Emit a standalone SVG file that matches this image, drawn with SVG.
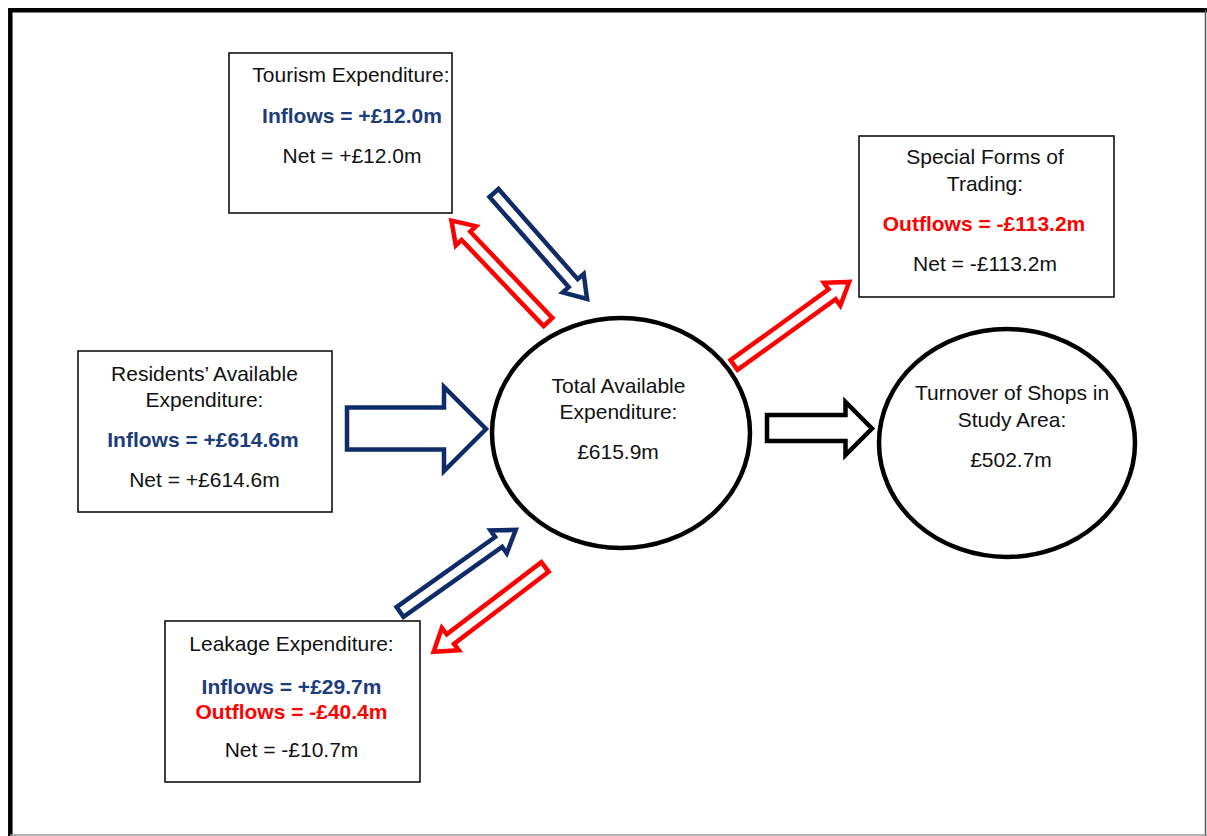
<svg xmlns="http://www.w3.org/2000/svg" width="1207" height="836" viewBox="0 0 1207 836">
<style>
  text { font-family: "Liberation Sans", Arial, sans-serif; font-size: 21px; fill: #111; text-anchor: middle; }
  .blue { fill: #1d3c7a; font-weight: bold; }
  .red { fill: #ff0000; font-weight: bold; }
  .box { fill: #fff; stroke: #111; stroke-width: 1.6; }
  .circ { fill: #fff; stroke: #000; stroke-width: 4.5; }
  .anavy { fill: #fff; stroke: #0f2c68; stroke-width: 4.5; stroke-linejoin: miter; }
  .ared { fill: #fff; stroke: #ff0000; stroke-width: 4.5; stroke-linejoin: miter; }
  .ablack { fill: #fff; stroke: #000; stroke-width: 4.5; stroke-linejoin: miter; }
</style>
<rect width="1207" height="836" fill="#fff"/>
<g id="frame">
  <path d="M10.3,836 L10.3,10.3 L1207,10.3" fill="none" stroke="#000" stroke-width="4.5"/>
  <line x1="1205.5" y1="10" x2="1205.5" y2="836" stroke="#555" stroke-width="1.5"/>
  <line x1="10" y1="835" x2="1207" y2="835" stroke="#999" stroke-width="1.5"/>
</g>
<g id="connectors">
  <polygon class="anavy" transform="translate(494,193) rotate(48.7)" points="0,-6 120,-6 120,-14 141,0 120,14 120,6 0,6"/>
  <polygon class="ared" transform="translate(548,322) rotate(-133.6)" points="0,-6 119,-6 119,-14 140,0 119,14 119,6 0,6"/>
  <polygon class="ared" transform="translate(734,365) rotate(-35.8)" points="0,-6 121,-6 121,-14 142,0 121,14 121,6 0,6"/>
  <polygon class="anavy" transform="translate(400,612) rotate(-35.4)" points="0,-6 121,-6 121,-14 142,0 121,14 121,6 0,6"/>
  <polygon class="ared" transform="translate(545,567) rotate(142.7)" points="0,-6 119,-6 119,-14 140,0 119,14 119,6 0,6"/>
  <polygon class="anavy" points="347,407.5 444,407.5 444,387 486,429 444,471 444,449.5 347,449.5"/>
  <polygon class="ablack" points="767,415 845.5,415 845.5,402 872,428.5 845.5,455 845.5,441 767,441"/>
</g>
<g id="tourism">
  <rect class="box" x="229" y="53" width="223" height="160"/>
  <text x="351" y="82">Tourism Expenditure:</text>
  <text class="blue" x="352" y="123">Inflows = +£12.0m</text>
  <text x="352" y="163">Net = +£12.0m</text>
</g>
<g id="special">
  <rect class="box" x="859" y="136" width="255" height="161"/>
  <text x="985" y="164">Special Forms of</text>
  <text x="985" y="191">Trading:</text>
  <text class="red" x="984" y="231">Outflows = -£113.2m</text>
  <text x="985" y="271">Net = -£113.2m</text>
</g>
<g id="residents">
  <rect class="box" x="78" y="351" width="254" height="161"/>
  <text x="204.5" y="381">Residents’ Available</text>
  <text x="204.5" y="407">Expenditure:</text>
  <text class="blue" x="203" y="447">Inflows = +£614.6m</text>
  <text x="204.5" y="487">Net = +£614.6m</text>
</g>
<g id="leakage">
  <rect class="box" x="165" y="621" width="255" height="161"/>
  <text x="291.5" y="651">Leakage Expenditure:</text>
  <text class="blue" x="291.5" y="694">Inflows = +£29.7m</text>
  <text class="red" x="291.5" y="719">Outflows = -£40.4m</text>
  <text x="291.5" y="757">Net = -£10.7m</text>
</g>
<g id="total">
  <ellipse class="circ" cx="621" cy="433" rx="129" ry="115"/>
  <text x="618.5" y="393">Total Available</text>
  <text x="618.5" y="419">Expenditure:</text>
  <text x="618" y="459">£615.9m</text>
</g>
<g id="turnover">
  <ellipse class="circ" cx="1007" cy="443" rx="128" ry="114"/>
  <text x="1012" y="400">Turnover of Shops in</text>
  <text x="1012" y="427">Study Area:</text>
  <text x="1011" y="467">£502.7m</text>
</g>
</svg>
